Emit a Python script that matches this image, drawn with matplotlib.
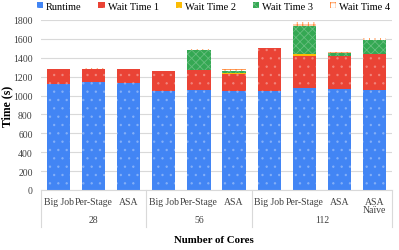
import numpy as np
import matplotlib
matplotlib.use('Agg')
import matplotlib.pyplot as plt
from matplotlib.lines import Line2D

plt.rcParams['font.family'] = ['Liberation Serif', 'DejaVu Serif']
plt.rcParams['hatch.linewidth'] = 0.6

# data
bar_names = ['Big Job', 'Per-Stage', 'ASA',
             'Big Job', 'Per-Stage', 'ASA',
             'Big Job', 'Per-Stage', 'ASA', 'ASA\nNaïve']
groups = ['28', '56', '112']
group_sizes = [3, 3, 4]
runtime = [1125, 1145, 1137, 1045, 1062, 1052, 1052, 1077, 1066, 1059]
wait1 = [160, 140, 145, 215, 205, 180, 452, 346, 353, 378]
wait2 = [0, 0, 0, 0, 5, 8, 0, 17, 0, 0]
wait3 = [0, 0, 0, 0, 208, 17, 0, 300, 28, 155]
wait4 = [0, 5, 0, 0, 12, 21, 0, 36, 14, 14]

series = [('Runtime', runtime, '#4285F4', '..'),
          ('Wait Time 1', wait1, '#EA4335', '..'),
          ('Wait Time 2', wait2, '#FBBC04', '..'),
          ('Wait Time 3', wait3, '#34A853', 'xxxx'),
          ('Wait Time 4', wait4, 'white', '+++')]

fig = plt.figure(figsize=(3.99, 2.51), dpi=100)
ax = fig.add_axes([41/399, 60/251, 351/399, 170/251])

x = np.arange(len(bar_names))
bottom = np.zeros(len(bar_names))
for name, vals, col, hatch in series:
    vals = np.array(vals, dtype=float)
    if name == 'Wait Time 4':
        ax.bar(x, vals, 0.66, bottom=bottom, color='white',
               edgecolor='#FF8A3D', hatch=hatch, linewidth=0, label=name)
    else:
        ax.bar(x, vals, 0.66, bottom=bottom, color=col,
               edgecolor=(1, 1, 1, 0.25), hatch=hatch, linewidth=0, label=name)
    bottom += vals

ax.set_ylim(0, 1800)
ax.set_xlim(-0.5, len(bar_names) - 0.5)
ax.set_yticks(np.arange(0, 1801, 200))
ax.yaxis.grid(True, color='#d9d9d9', linewidth=0.8)
ax.set_axisbelow(True)
for s in ['top', 'right', 'left']:
    ax.spines[s].set_visible(False)
ax.spines['bottom'].set_color('#d9d9d9')
ax.tick_params(axis='both', length=0, labelsize=7, colors='#404040')
ax.tick_params(axis='y', pad=6)
ax.set_xticks(x)
ax.set_xticklabels(bar_names, fontsize=7, linespacing=0.9)
ax.tick_params(axis='x', pad=5)

# group labels and separators
start = 0
edges = [-0.5]
for g, n in zip(groups, group_sizes):
    mid = start + (n - 1) / 2
    ax.text(mid, -0.175, g, transform=ax.get_xaxis_transform(), ha='center',
            va='center', fontsize=7, color='#404040')
    start += n
    edges.append(start - 0.5)
for e in edges:
    ax.add_line(Line2D([e, e], [0, -0.22], transform=ax.get_xaxis_transform(),
                       color='#d9d9d9', linewidth=0.8, clip_on=False))

ax.set_ylabel('Time (s)', fontsize=8.5, fontweight='bold')
ax.yaxis.set_label_coords(-0.078, 0.5)
fig.text(0.535, 10/251, 'Number of Cores', ha='center', va='center',
         fontsize=7.8, fontweight='bold')

fig.legend(loc='center', bbox_to_anchor=(0.535, 0.972), ncol=5, frameon=False,
           fontsize=7.5, handlelength=0.6, handleheight=0.6, handletextpad=0.3,
           columnspacing=1.6, borderaxespad=0)

fig.savefig('out.png', dpi=100)
